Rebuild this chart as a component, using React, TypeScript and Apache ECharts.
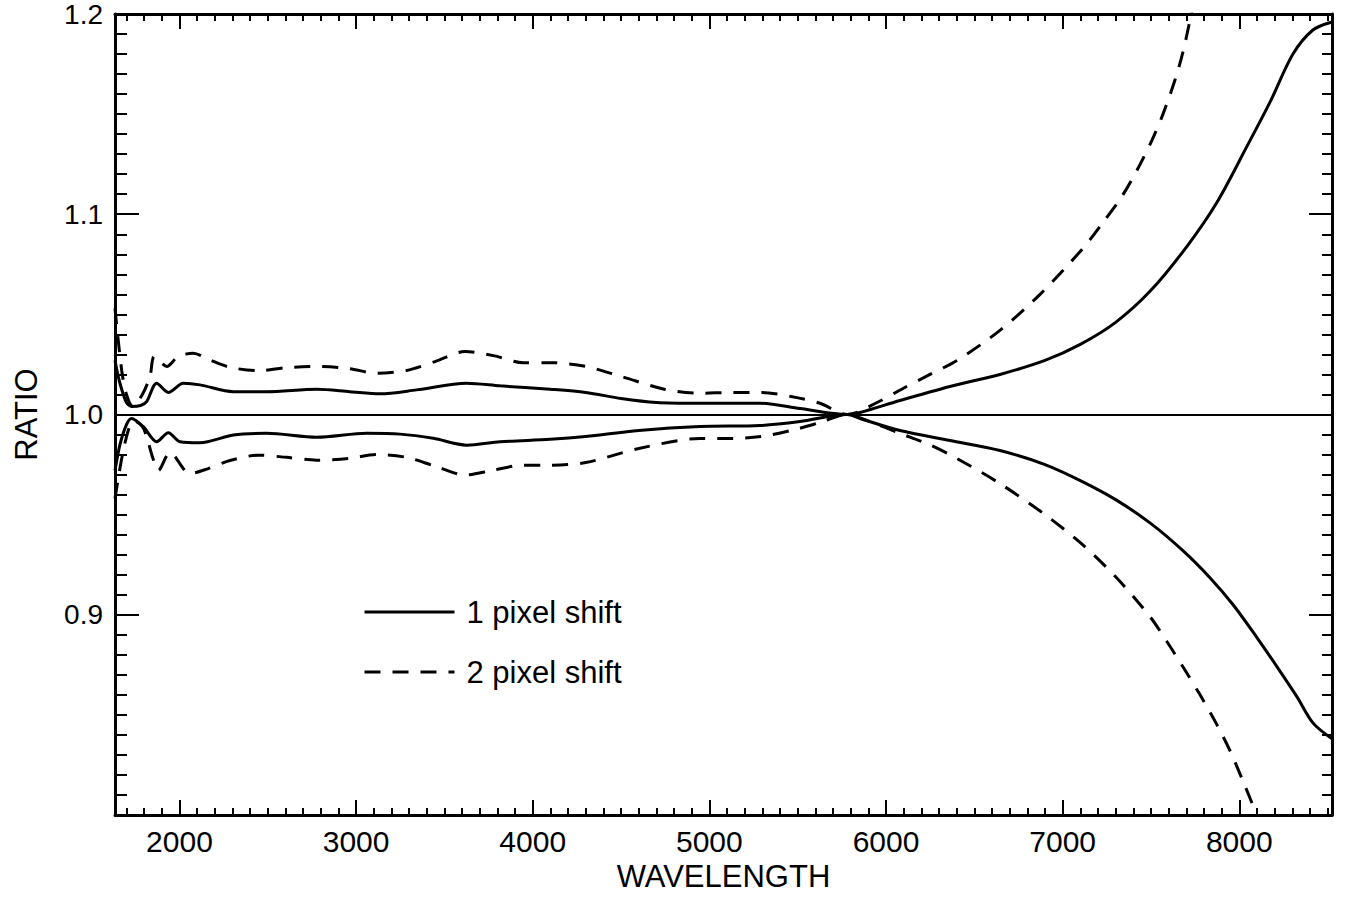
import React, { useEffect, useRef } from "react";
import * as echarts from "echarts";

// Axis extents and ticks
const X_MIN = 1635;
const X_MAX = 8525;
const Y_MIN = 0.8;
const Y_MAX = 1.2;
const Y_INTERVAL = 0.1;

const legendNames = ["1 pixel shift", "2 pixel shift"];

// 1 pixel shift, upper branch [wavelength, ratio]
const onePixelUp: [number, number][] = [
  [1635, 1.027], [1663, 1.0156], [1700, 1.006], [1730, 1.004], [1780, 1.0045],
  [1814, 1.0064], [1871, 1.0156], [1937, 1.011], [2022, 1.0156], [2116, 1.0148],
  [2305, 1.0114], [2494, 1.0114], [2777, 1.0126], [2965, 1.0114], [3135, 1.0103],
  [3343, 1.0123], [3626, 1.0156], [3815, 1.0143], [4098, 1.0126], [4300, 1.011],
  [4500, 1.008], [4700, 1.006], [4947, 1.0056], [5287, 1.0056], [5513, 1.003],
  [5780, 1.0], [5853, 1.001], [6079, 1.007], [6362, 1.014], [6645, 1.02],
  [6900, 1.027], [7100, 1.035], [7300, 1.046], [7500, 1.062], [7704, 1.084],
  [7874, 1.106], [8044, 1.134], [8174, 1.156], [8304, 1.18], [8417, 1.192],
  [8525, 1.196],
];

// 1 pixel shift, lower branch
const onePixelDown: [number, number][] = [
  [1635, 0.972], [1663, 0.985], [1700, 0.995], [1729, 0.998], [1795, 0.9939],
  [1871, 0.9864], [1937, 0.9909], [2003, 0.9864], [2116, 0.9859], [2305, 0.9898],
  [2494, 0.9906], [2777, 0.9886], [3060, 0.9906], [3249, 0.9902], [3437, 0.9881],
  [3626, 0.9847], [3815, 0.9864], [4098, 0.9876], [4300, 0.989], [4600, 0.992],
  [4947, 0.994], [5287, 0.9945], [5513, 0.9965], [5780, 1.0], [5853, 0.998],
  [6079, 0.992], [6362, 0.987], [6645, 0.982], [6900, 0.975], [7100, 0.967],
  [7300, 0.9575], [7500, 0.9455], [7681, 0.932], [7834, 0.9185], [7965, 0.905],
  [8101, 0.8885], [8214, 0.874], [8327, 0.859], [8417, 0.846], [8525, 0.838],
];

// 2 pixel shift, upper branch
const twoPixelUp: [number, number][] = [
  [1635, 1.053], [1673, 1.022], [1700, 1.01], [1735, 1.004], [1790, 1.01],
  [1833, 1.019], [1858, 1.029], [1928, 1.024], [1993, 1.029], [2078, 1.0306],
  [2163, 1.0276], [2286, 1.0236], [2446, 1.0219], [2607, 1.0234], [2777, 1.024],
  [2956, 1.023], [3116, 1.0206], [3285, 1.022], [3447, 1.0264], [3617, 1.0314],
  [3777, 1.0294], [3947, 1.0259], [4098, 1.0259], [4300, 1.024], [4500, 1.019],
  [4750, 1.0125], [4947, 1.0106], [5122, 1.011], [5292, 1.011], [5462, 1.009],
  [5626, 1.0056], [5780, 1.0], [5949, 1.006], [6096, 1.013], [6249, 1.02],
  [6402, 1.027], [6645, 1.042], [6872, 1.06], [7115, 1.083], [7229, 1.096],
  [7336, 1.109], [7421, 1.122], [7506, 1.137], [7568, 1.15], [7636, 1.167],
  [7681, 1.181], [7721, 1.197], [7760, 1.215],
];

// 2 pixel shift, lower branch
const twoPixelDown: [number, number][] = [
  [1635, 0.958], [1673, 0.978], [1710, 0.992], [1739, 0.997], [1790, 0.994],
  [1814, 0.989], [1850, 0.978], [1880, 0.972], [1946, 0.981], [2060, 0.9705],
  [2163, 0.973], [2286, 0.977], [2446, 0.9797], [2607, 0.9786], [2777, 0.9772],
  [2956, 0.978], [3116, 0.98], [3285, 0.9786], [3447, 0.9742], [3617, 0.9698],
  [3777, 0.9722], [3947, 0.9747], [4098, 0.9747], [4300, 0.976], [4600, 0.983],
  [4947, 0.988], [5122, 0.988], [5292, 0.989], [5462, 0.992], [5626, 0.996],
  [5780, 1.0], [5909, 0.9964], [6079, 0.9906], [6249, 0.9848], [6402, 0.978],
  [6645, 0.9655], [6900, 0.95], [7100, 0.936], [7300, 0.919], [7495, 0.899],
  [7591, 0.8865], [7681, 0.874], [7778, 0.86], [7874, 0.845], [7948, 0.832],
  [8016, 0.818], [8072, 0.806], [8120, 0.795], [8160, 0.785],
];

const FONT = "Liberation Sans, Arial, Helvetica, sans-serif";
const DASH = [16, 12];

export default function App() {
  const ref = useRef<HTMLDivElement>(null);

  useEffect(() => {
    if (!ref.current) return;
    const chart = echarts.init(ref.current, undefined, { renderer: "svg" });

    const xBase = (pos: "bottom" | "top", labels: boolean) => ({
      type: "value",
      position: pos,
      min: X_MIN,
      max: X_MAX,
      axisLine: { show: true, onZero: false, lineStyle: { color: "#000", width: 3 } },
      axisTick: { show: true, inside: true, length: 15, lineStyle: { color: "#000", width: 2 } },
      minorTick: { show: true, splitNumber: 10, length: 7, lineStyle: { color: "#000", width: 2 } },
      splitLine: { show: false },
      minorSplitLine: { show: false },
      axisLabel: {
        show: labels,
        fontSize: 30,
        color: "#000",
        fontFamily: FONT,
        margin: 11,
        formatter: (v: number) => (Math.abs(v % 1000) < 1e-6 ? String(v) : ""),
      },
    });

    const yBase = (pos: "left" | "right", labels: boolean) => ({
      type: "value",
      position: pos,
      min: Y_MIN,
      max: Y_MAX,
      interval: Y_INTERVAL,
      axisLine: { show: true, onZero: false, lineStyle: { color: "#000", width: 3 } },
      axisTick: { show: true, inside: true, length: labels ? 24 : 23, lineStyle: { color: "#000", width: 2 } },
      minorTick: { show: true, splitNumber: 10, length: labels ? 12 : 10, lineStyle: { color: "#000", width: 2 } },
      splitLine: { show: false },
      minorSplitLine: { show: false },
      axisLabel: {
        show: labels,
        fontSize: 28,
        color: "#000",
        fontFamily: FONT,
        margin: 12,
        formatter: (v: number) => (Math.abs(v - Y_MIN) < 1e-6 ? "" : v.toFixed(1)),
      },
    });

    const line = (name: string, data: [number, number][], dashed: boolean, extra: any = {}) => ({
      type: "line",
      name,
      data,
      xAxisIndex: 0,
      yAxisIndex: 0,
      symbol: "none",
      showSymbol: false,
      smooth: 0.3,
      clip: true,
      lineStyle: { color: "#000", width: 3, type: dashed ? DASH : "solid" },
      itemStyle: { color: "#000" },
      ...extra,
    });

    chart.setOption({
      animation: false,
      backgroundColor: "#fff",
      grid: { left: 115, right: 14, top: 14, bottom: 86, containLabel: false, outerBoundsMode: "none" },
      legend: {
        data: legendNames,
        orient: "vertical",
        left: 358,
        top: 590,
        itemWidth: 90,
        itemHeight: 14,
        itemGap: 26,
        selectedMode: false,
        itemStyle: { color: "rgba(0,0,0,0)", borderColor: "rgba(0,0,0,0)", borderWidth: 0, opacity: 0 },
        lineStyle: { width: 3, color: "#000" },
        textStyle: { fontSize: 31, color: "#000", fontFamily: FONT, lineHeight: 34, padding: [0, 0, 0, 7] },
      },
      xAxis: [
        {
          ...xBase("bottom", true),
          name: "WAVELENGTH",
          nameLocation: "middle",
          nameGap: 39,
          nameTextStyle: { fontSize: 31, color: "#000", fontFamily: FONT },
        },
        xBase("top", false),
      ],
      yAxis: [
        {
          ...yBase("left", true),
          name: "RATIO",
          nameLocation: "middle",
          nameGap: 73,
          nameTextStyle: { fontSize: 31, color: "#000", fontFamily: FONT },
        },
        yBase("right", false),
      ],
      series: [
        line(legendNames[0], onePixelUp, false, {
          markLine: {
            silent: true,
            symbol: "none",
            label: { show: false },
            lineStyle: { color: "#000", width: 2, type: "solid" },
            data: [{ yAxis: 1.0 }],
          },
        }),
        line(legendNames[0], onePixelDown, false),
        line(legendNames[1], twoPixelUp, true),
        line(legendNames[1], twoPixelDown, true),
      ],
    });

    return () => chart.dispose();
  }, []);

  return (
    <div
      ref={ref}
      style={{ position: "fixed", left: 0, top: 0, width: 1346, height: 901, background: "#fff" }}
    />
  );
}
